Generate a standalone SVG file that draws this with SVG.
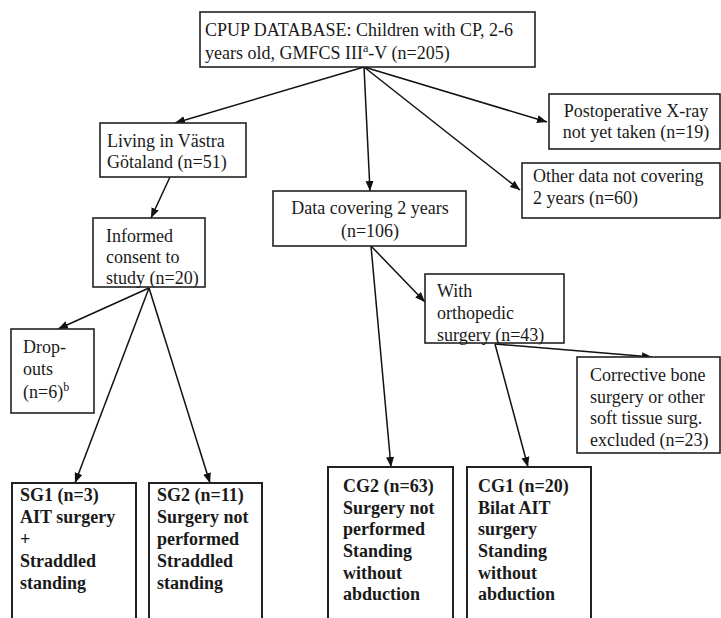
<svg xmlns="http://www.w3.org/2000/svg" width="721" height="618" viewBox="0 0 721 618">
<defs>
<marker id="ah" viewBox="0 0 10 10" refX="10" refY="5" markerWidth="10" markerHeight="10" markerUnits="userSpaceOnUse" orient="auto">
<path d="M0,1 L10,5 L0,9 Z" fill="#111"/>
</marker>
</defs>
<style>
.box{fill:#fff;stroke:#222;stroke-width:1.6}
.bb{fill:#fff;stroke:#222;stroke-width:2}
text{font-family:"Liberation Serif","Times New Roman",serif;font-size:18px;fill:#1a1a1a}
.b{font-weight:bold}
.c{text-anchor:middle}
.ln{stroke:#111;stroke-width:1.5;fill:none}
.ar{stroke:#111;stroke-width:1.5;fill:none;marker-end:url(#ah)}
</style>
<rect width="721" height="618" fill="#fff"/>
<g id="connectors">
<line class="ar" x1="364" y1="67" x2="175" y2="123"/>
<line class="ar" x1="364" y1="67" x2="370" y2="191"/>
<line class="ar" x1="364" y1="67" x2="520" y2="190"/>
<line class="ar" x1="364" y1="67" x2="547" y2="122"/>
<line class="ar" x1="170" y1="177" x2="151" y2="218"/>
<line class="ar" x1="149" y1="288" x2="58" y2="329"/>
<line class="ar" x1="149" y1="288" x2="75" y2="483"/>
<line class="ar" x1="149" y1="288" x2="210" y2="483"/>
<line class="ar" x1="371" y1="246" x2="391" y2="467"/>
<line class="ar" x1="371" y1="246" x2="425" y2="302"/>
<line class="ar" x1="495" y1="344" x2="528" y2="467"/>
<line class="ar" x1="495" y1="344" x2="652" y2="357"/>
</g>
<g id="top">
<rect class="box" x="200" y="12" width="335" height="55"/>
<text x="205" y="36">CPUP DATABASE: Children with CP, 2-6</text>
<text x="205" y="59">years old, GMFCS III<tspan font-size="12" dy="-7">a</tspan><tspan dy="7">-V (n=205)</tspan></text>
</g>
<g id="living">
<rect class="box" x="100" y="123" width="146" height="54"/>
<text x="107" y="147">Living in Västra</text>
<text x="107" y="168">Götaland (n=51)</text>
</g>
<g id="postop">
<rect class="box" x="549" y="94" width="171" height="55"/>
<text class="c" x="636" y="117">Postoperative X-ray</text>
<text class="c" x="636" y="138">not yet taken (n=19)</text>
</g>
<g id="otherdata">
<rect class="box" x="522" y="163" width="198" height="55"/>
<text x="533" y="182">Other data not covering</text>
<text x="533" y="204">2 years (n=60)</text>
</g>
<g id="datacovering">
<rect class="box" x="273" y="191" width="193" height="55"/>
<text class="c" x="370" y="214">Data covering 2 years</text>
<text class="c" x="370" y="237">(n=106)</text>
</g>
<g id="informed">
<rect class="box" x="93" y="218" width="112" height="69"/>
<text x="106" y="242">Informed</text>
<text x="106" y="263">consent to</text>
<text x="106" y="284">study (n=20)</text>
</g>
<g id="dropouts">
<rect class="box" x="11" y="329" width="83" height="84"/>
<text x="23" y="353">Drop-</text>
<text x="23" y="375">outs</text>
<text x="23" y="398">(n=6)<tspan font-size="12" dy="-7">b</tspan></text>
</g>
<g id="ortho">
<rect class="box" x="425" y="274" width="139" height="69"/>
<text x="437" y="297">With</text>
<text x="437" y="319">orthopedic</text>
<text x="437" y="341">surgery (n=43)</text>
</g>
<g id="corrective">
<rect class="box" x="577" y="357" width="143" height="96"/>
<text x="590" y="381">Corrective bone</text>
<text x="590" y="403">surgery or other</text>
<text x="590" y="424">soft tissue surg.</text>
<text x="590" y="446">excluded (n=23)</text>
</g>
<g id="sg1">
<rect class="bb" x="12" y="483" width="124" height="145"/>
<text class="b" x="20" y="501">SG1 (n=3)</text>
<text class="b" x="20" y="523">AIT surgery</text>
<text class="b" x="20" y="545">+</text>
<text class="b" x="20" y="567">Straddled</text>
<text class="b" x="20" y="589">standing</text>
</g>
<g id="sg2">
<rect class="bb" x="149" y="483" width="113" height="145"/>
<text class="b" x="157" y="501">SG2 (n=11)</text>
<text class="b" x="157" y="523">Surgery not</text>
<text class="b" x="157" y="545">performed</text>
<text class="b" x="157" y="567">Straddled</text>
<text class="b" x="157" y="589">standing</text>
</g>
<g id="cg2">
<rect class="bb" x="328" y="467" width="125" height="161"/>
<text class="b" x="343" y="492">CG2 (n=63)</text>
<text class="b" x="343" y="514">Surgery not</text>
<text class="b" x="343" y="535">performed</text>
<text class="b" x="343" y="557">Standing</text>
<text class="b" x="343" y="579">without</text>
<text class="b" x="343" y="600">abduction</text>
</g>
<g id="cg1">
<rect class="bb" x="467" y="467" width="124" height="161"/>
<text class="b" x="478" y="492">CG1 (n=20)</text>
<text class="b" x="478" y="514">Bilat AIT</text>
<text class="b" x="478" y="535">surgery</text>
<text class="b" x="478" y="557">Standing</text>
<text class="b" x="478" y="579">without</text>
<text class="b" x="478" y="600">abduction</text>
</g>
</svg>
